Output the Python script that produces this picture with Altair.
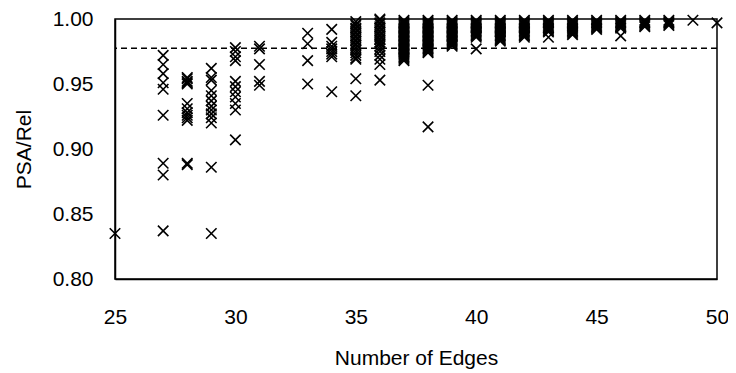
import altair as alt
import pandas as pd

# PSA/Rel values read for each number of edges
edges_25 = [0.835]
edges_27 = [0.972, 0.965, 0.958, 0.951, 0.946, 0.926, 0.889, 0.880, 0.837]
edges_28 = [0.955, 0.954, 0.952, 0.951, 0.950, 0.935, 0.931, 0.928, 0.926, 0.924, 0.922, 0.889, 0.888]
edges_29 = [0.962, 0.955, 0.953, 0.945, 0.941, 0.937, 0.933, 0.930, 0.927, 0.924, 0.920, 0.886, 0.835]
edges_30 = [0.978, 0.975, 0.971, 0.968, 0.952, 0.948, 0.944, 0.940, 0.935, 0.930, 0.907]
edges_31 = [0.979, 0.977, 0.965, 0.952, 0.949]
edges_33 = [0.989, 0.981, 0.968, 0.950]
edges_34 = [0.992, 0.982, 0.979, 0.977, 0.975, 0.973, 0.971, 0.944]
edges_35 = [0.998, 0.996, 0.995, 0.993, 0.992, 0.990, 0.989, 0.987, 0.986, 0.984, 0.983, 0.981, 0.980,
            0.978, 0.976, 0.974, 0.972, 0.970, 0.969, 0.954, 0.941]
edges_36 = [1.000, 0.999, 0.997, 0.996, 0.994, 0.993, 0.991, 0.990, 0.988, 0.987, 0.985, 0.984, 0.982,
            0.981, 0.979, 0.977, 0.975, 0.972, 0.969, 0.965, 0.953]
edges_37 = [0.999, 0.998, 0.997, 0.996, 0.995, 0.994, 0.993, 0.992, 0.991, 0.990, 0.989, 0.988, 0.987,
            0.986, 0.985, 0.984, 0.983, 0.982, 0.981, 0.980, 0.979, 0.978, 0.977, 0.976, 0.975, 0.974,
            0.973, 0.972, 0.971, 0.970, 0.969, 0.968]
edges_38 = [0.999, 0.998, 0.997, 0.996, 0.995, 0.994, 0.993, 0.992, 0.991, 0.990, 0.989, 0.988, 0.987,
            0.986, 0.985, 0.984, 0.983, 0.982, 0.981, 0.980, 0.979, 0.978, 0.977, 0.976, 0.975, 0.974,
            0.949, 0.917]
edges_39 = [0.999, 0.998, 0.997, 0.996, 0.995, 0.994, 0.993, 0.992, 0.991, 0.990, 0.989, 0.988, 0.987,
            0.986, 0.985, 0.984, 0.983, 0.982, 0.981, 0.980, 0.979]
edges_40 = [0.999, 0.998, 0.997, 0.996, 0.995, 0.994, 0.993, 0.992, 0.991, 0.990, 0.989, 0.988, 0.987,
            0.986, 0.977]
edges_41 = [0.999, 0.998, 0.997, 0.996, 0.995, 0.994, 0.993, 0.992, 0.991, 0.990, 0.989, 0.988, 0.987,
            0.986, 0.985, 0.984, 0.983]
edges_42 = [0.999, 0.998, 0.997, 0.996, 0.995, 0.994, 0.993, 0.992, 0.991, 0.990, 0.989, 0.988, 0.987,
            0.986]
edges_43 = [0.999, 0.998, 0.997, 0.996, 0.995, 0.994, 0.993, 0.992, 0.991, 0.990, 0.986]
edges_44 = [0.999, 0.998, 0.997, 0.996, 0.995, 0.994, 0.993, 0.992, 0.991, 0.990, 0.989, 0.988]
edges_45 = [0.999, 0.998, 0.997, 0.996, 0.995, 0.994, 0.993, 0.992]
edges_46 = [0.999, 0.998, 0.997, 0.996, 0.995, 0.994, 0.993, 0.987]
edges_47 = [0.999, 0.998, 0.997, 0.996, 0.995, 0.994]
edges_48 = [0.999, 0.998, 0.997, 0.996, 0.995]
edges_49 = [0.999]
edges_50 = [0.997]

threshold = [0.9775]
x_ticks = [25, 30, 35, 40, 45, 50]
y_ticks = [0.80, 0.85, 0.90, 0.95, 1.00]

columns = {
    25: edges_25, 27: edges_27, 28: edges_28, 29: edges_29, 30: edges_30,
    31: edges_31, 33: edges_33, 34: edges_34, 35: edges_35, 36: edges_36,
    37: edges_37, 38: edges_38, 39: edges_39, 40: edges_40, 41: edges_41,
    42: edges_42, 43: edges_43, 44: edges_44, 45: edges_45, 46: edges_46,
    47: edges_47, 48: edges_48, 49: edges_49, 50: edges_50,
}
rows = [{"edges": k, "ratio": v} for k, vals in columns.items() for v in vals]
df = pd.DataFrame(rows)

FONT = "Liberation Sans"

x_scale = alt.Scale(domain=[25, 50], nice=False, zero=False)
y_scale = alt.Scale(domain=[0.80, 1.00], nice=False, zero=False)

points = alt.Chart(df).mark_point(
    shape="M-1,-1L1,1M1,-1L-1,1",
    filled=False,
    stroke="black",
    strokeWidth=1.6,
    size=110,
    opacity=1,
).encode(
    x=alt.X("edges:Q", scale=x_scale,
            axis=alt.Axis(title="Number of Edges", values=x_ticks, format="d",
                          ticks=False, grid=False, labelPadding=27,
                          labelFlush=False, titlePadding=20)),
    y=alt.Y("ratio:Q", scale=y_scale,
            axis=alt.Axis(title="PSA/Rel", values=y_ticks, format=".2f",
                          ticks=False, grid=False, labelPadding=22,
                          labelFlush=False, titlePadding=18)),
)

rule = alt.Chart(pd.DataFrame({"y": threshold})).mark_rule(
    color="black", strokeDash=[6, 4], strokeWidth=1.3
).encode(y=alt.Y("y:Q", scale=y_scale))

chart = (rule + points).properties(
    width=602,
    height=260,
    background="white",
    autosize=alt.AutoSizeParams(type="none"),
    padding={"left": 107, "top": 11, "right": 11, "bottom": 93},
).configure_view(
    stroke="black", strokeWidth=1.5
).configure_axis(
    domainColor="black", domainWidth=1.5,
    labelColor="black", titleColor="black",
    labelFont=FONT, titleFont=FONT,
    labelFontSize=21, titleFontSize=21,
    titleFontWeight="normal",
)

chart.save("out.html", embed_options={"renderer": "svg", "actions": False})
